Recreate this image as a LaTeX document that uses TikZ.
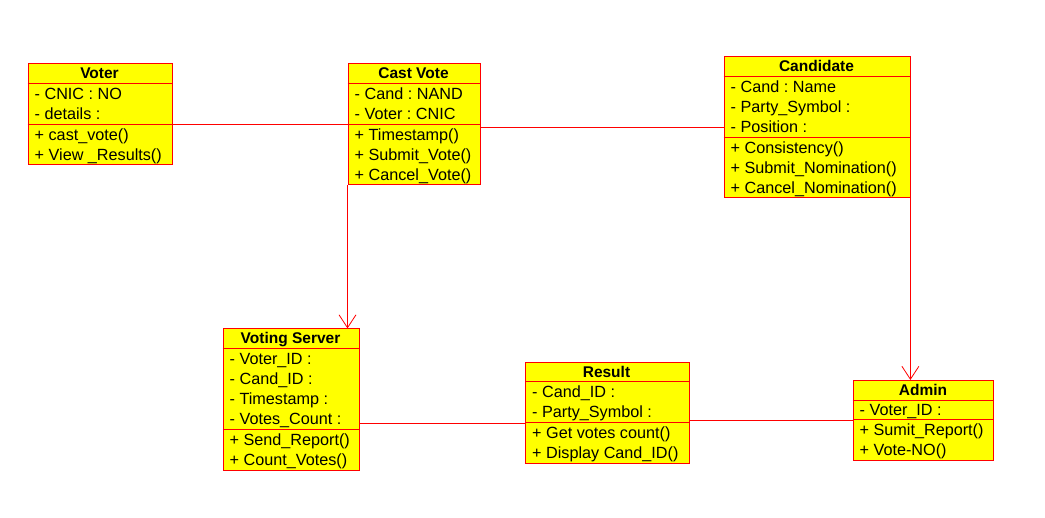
\documentclass[tikz,border=0pt]{standalone}
\usepackage{fontspec}
\setmainfont{Liberation Sans}
\usetikzlibrary{arrows.meta}
\definecolor{umlred}{RGB}{255,0,0}
\definecolor{umlyellow}{RGB}{255,255,0}
\tikzset{
  cls/.style={draw=umlred, fill=umlyellow, line width=0.9pt, anchor=north west, inner sep=0pt},
  sep/.style={draw=umlred, line width=0.9pt},
  clsname/.style={font=\fontsize{15.5}{18}\selectfont\bfseries, inner sep=0pt, text height=11pt, text depth=0pt},
  member/.style={anchor=west, inner sep=0pt, text height=11pt, text depth=0pt},
  assoc/.style={draw=umlred, line width=0.8pt},
  dep/.style={assoc, -{Straight Barb[length=13pt,width=17pt,line width=0.8pt]}},
}
\begin{document}
\begin{tikzpicture}[x=1pt, y=-1pt, font=\fontsize{16.2}{18}\selectfont\frenchspacing]
  \useasboundingbox (0,0) rectangle (1045,518);
  % Voter
  \node[cls, minimum width=144pt, minimum height=101pt] (voter) at (27.5,63.5) {};
  \draw[sep] (27.5,83.5) -- (171.5,83.5);
  \coordinate (voter-ops) at (27.5,124.5);
  \draw[sep] (voter-ops) -- (171.5,124.5);
  \node[clsname] (voter-name) at (99.5,73.5) {Voter};
  \node[member] (voter-a1) at (34.5,94.5) {- CNIC : NO};
  \node[member] (voter-a2) at (34.5,114.5) {- details :};
  \node[member] (voter-o1) at (34.5,135.5) {+ cast\_vote()};
  \node[member] (voter-o2) at (34.5,155.5) {+ View \_Results()};

  % Cast Vote
  \node[cls, minimum width=132pt, minimum height=121pt] (cast) at (347.5,63.5) {};
  \draw[sep] (347.5,83.5) -- (479.5,83.5);
  \draw[sep] (347.5,124.5) -- (479.5,124.5);
  \node[clsname] (cast-name) at (413.5,73.5) {Cast Vote};
  \node[member] (cast-a1) at (354.5,94.5) {- Cand : NAND};
  \node[member] (cast-a2) at (354.5,114.5) {- Voter : CNIC};
  \node[member] (cast-o1) at (354.5,135.5) {+ Timestamp()};
  \node[member] (cast-o2) at (354.5,155.5) {+ Submit\_Vote()};
  \node[member] (cast-o3) at (354.5,175.5) {+ Cancel\_Vote()};

  % Candidate
  \node[cls, minimum width=186pt, minimum height=141pt] (cand) at (723.5,56.5) {};
  \draw[sep] (723.5,76.5) -- (909.5,76.5);
  \draw[sep] (723.5,137.5) -- (909.5,137.5);
  \node[clsname] (cand-name) at (816.5,66.5) {Candidate};
  \node[member] (cand-a1) at (730.5,87.5) {- Cand : Name};
  \node[member] (cand-a2) at (730.5,107.5) {- Party\_Symbol :};
  \node[member] (cand-a3) at (730.5,127.5) {- Position :};
  \node[member] (cand-o1) at (730.5,148.5) {+ Consistency()};
  \node[member] (cand-o2) at (730.5,168.5) {+ Submit\_Nomination()};
  \node[member] (cand-o3) at (730.5,188.5) {+ Cancel\_Nomination()};

  % Voting Server
  \node[cls, minimum width=136.5pt, minimum height=141.5pt] (vserver) at (222.5,328.5) {};
  \draw[sep] (222.5,348.5) -- (359,348.5);
  \draw[sep] (222.5,429.5) -- (359,429.5);
  \node[clsname] (vserver-name) at (290.5,338.5) {Voting Server};
  \node[member] (vserver-a1) at (229.5,359.5) {- Voter\_ID :};
  \node[member] (vserver-a2) at (229.5,379.5) {- Cand\_ID :};
  \node[member] (vserver-a3) at (229.5,399.5) {- Timestamp :};
  \node[member] (vserver-a4) at (229.5,419.5) {- Votes\_Count :};
  \node[member] (vserver-o1) at (229.5,440.5) {+ Send\_Report()};
  \node[member] (vserver-o2) at (229.5,460.5) {+ Count\_Votes()};

  % Result
  \node[cls, minimum width=163.5pt, minimum height=101.5pt] (result) at (525,361.7) {};
  \draw[sep] (525,381.7) -- (688.5,381.7);
  \coordinate (result-ops) at (525,423);
  \draw[sep] (525,422.3) -- (688.5,422.3);
  \node[clsname] (result-name) at (606.5,371.7) {Result};
  \node[member] (result-a1) at (532,392.5) {- Cand\_ID :};
  \node[member] (result-a2) at (532,412.5) {- Party\_Symbol :};
  \node[member] (result-o1) at (532,433.3) {+ Get votes count()};
  \node[member] (result-o2) at (532,453.3) {+ Display Cand\_ID()};

  % Admin
  \node[cls, minimum width=140.5pt, minimum height=80pt] (admin) at (852.7,380) {};
  \draw[sep] (852.7,400) -- (993.2,400);
  \draw[sep] (852.7,419.3) -- (993.2,419.3);
  \node[clsname] (admin-name) at (923,390) {Admin};
  \node[member] (admin-a1) at (859.5,410) {- Voter\_ID :};
  \node[member] (admin-o1) at (859.5,430) {+ Sumit\_Report()};
  \node[member] (admin-o2) at (859.5,450) {+ Vote-NO()};

  % links
  \draw[assoc] (voter.east |- voter-ops) -- (cast.west |- voter-ops);
  \draw[assoc] (cand.west) -- (cand.west -| cast.east);
  \draw[dep] (cast.south west) -- (cast.south west |- vserver.north);
  \draw[dep] (cand.south east) -- (cand.south east |- admin.north);
  \draw[assoc] (vserver.east |- result-ops) -- (result-ops);
  \draw[assoc] (admin.west) -- (admin.west -| result.east);
\end{tikzpicture}
\end{document}
